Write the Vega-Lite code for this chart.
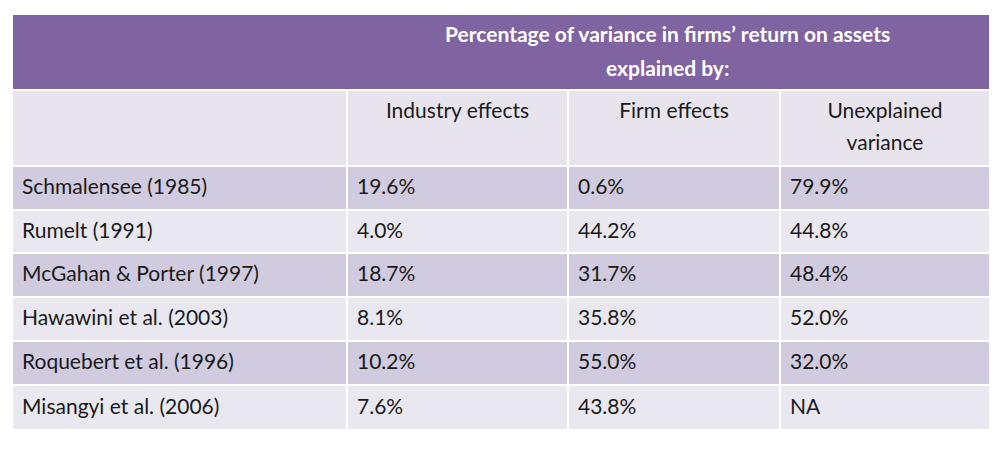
{
  "$schema": "https://vega.github.io/schema/vega-lite/v6.json",
  "width": 1002,
  "height": 454,
  "autosize": {"type": "fit", "contains": "padding"},
  "padding": 0,
  "background": "white",
  "config": {"view": {"stroke": null}, "text": {"lineBreak": "\n"}},
  "datasets": {
    "cells": [
      {"r0": 0, "r1": 1, "c0": 0, "c1": 4, "kind": "header"},
      {"r0": 1, "r1": 2, "c0": 0, "c1": 1, "kind": "sub"},
      {"r0": 1, "r1": 2, "c0": 1, "c1": 2, "kind": "sub"},
      {"r0": 1, "r1": 2, "c0": 2, "c1": 3, "kind": "sub"},
      {"r0": 1, "r1": 2, "c0": 3, "c1": 4, "kind": "sub"},
      {"r0": 2, "r1": 3, "c0": 0, "c1": 1, "kind": "dark"},
      {"r0": 2, "r1": 3, "c0": 1, "c1": 2, "kind": "dark"},
      {"r0": 2, "r1": 3, "c0": 2, "c1": 3, "kind": "dark"},
      {"r0": 2, "r1": 3, "c0": 3, "c1": 4, "kind": "dark"},
      {"r0": 3, "r1": 4, "c0": 0, "c1": 1, "kind": "light"},
      {"r0": 3, "r1": 4, "c0": 1, "c1": 2, "kind": "light"},
      {"r0": 3, "r1": 4, "c0": 2, "c1": 3, "kind": "light"},
      {"r0": 3, "r1": 4, "c0": 3, "c1": 4, "kind": "light"},
      {"r0": 4, "r1": 5, "c0": 0, "c1": 1, "kind": "dark"},
      {"r0": 4, "r1": 5, "c0": 1, "c1": 2, "kind": "dark"},
      {"r0": 4, "r1": 5, "c0": 2, "c1": 3, "kind": "dark"},
      {"r0": 4, "r1": 5, "c0": 3, "c1": 4, "kind": "dark"},
      {"r0": 5, "r1": 6, "c0": 0, "c1": 1, "kind": "light"},
      {"r0": 5, "r1": 6, "c0": 1, "c1": 2, "kind": "light"},
      {"r0": 5, "r1": 6, "c0": 2, "c1": 3, "kind": "light"},
      {"r0": 5, "r1": 6, "c0": 3, "c1": 4, "kind": "light"},
      {"r0": 6, "r1": 7, "c0": 0, "c1": 1, "kind": "dark"},
      {"r0": 6, "r1": 7, "c0": 1, "c1": 2, "kind": "dark"},
      {"r0": 6, "r1": 7, "c0": 2, "c1": 3, "kind": "dark"},
      {"r0": 6, "r1": 7, "c0": 3, "c1": 4, "kind": "dark"},
      {"r0": 7, "r1": 8, "c0": 0, "c1": 1, "kind": "light"},
      {"r0": 7, "r1": 8, "c0": 1, "c1": 2, "kind": "light"},
      {"r0": 7, "r1": 8, "c0": 2, "c1": 3, "kind": "light"},
      {"r0": 7, "r1": 8, "c0": 3, "c1": 4, "kind": "light"}
    ],
    "title": [
      {"x": 2.47, "y": 0.5, "t": "Percentage of variance in firms’ return on assets\nexplained by:"}
    ],
    "heads": [
      {"x": 1.5, "y": 1.5, "t": "Industry effects"},
      {"x": 2.5, "y": 1.5, "t": "Firm effects"},
      {"x": 3.5, "y": 1.5, "t": "Unexplained\nvariance"}
    ],
    "body": [
      {"c": 0, "r": 2.5, "t": "Schmalensee (1985)"}, {"c": 1, "r": 2.5, "t": "19.6%"}, {"c": 2, "r": 2.5, "t": "0.6%"}, {"c": 3, "r": 2.5, "t": "79.9%"},
      {"c": 0, "r": 3.5, "t": "Rumelt (1991)"}, {"c": 1, "r": 3.5, "t": "4.0%"}, {"c": 2, "r": 3.5, "t": "44.2%"}, {"c": 3, "r": 3.5, "t": "44.8%"},
      {"c": 0, "r": 4.5, "t": "McGahan & Porter (1997)"}, {"c": 1, "r": 4.5, "t": "18.7%"}, {"c": 2, "r": 4.5, "t": "31.7%"}, {"c": 3, "r": 4.5, "t": "48.4%"},
      {"c": 0, "r": 5.5, "t": "Hawawini et al. (2003)"}, {"c": 1, "r": 5.5, "t": "8.1%"}, {"c": 2, "r": 5.5, "t": "35.8%"}, {"c": 3, "r": 5.5, "t": "52.0%"},
      {"c": 0, "r": 6.5, "t": "Roquebert et al. (1996)"}, {"c": 1, "r": 6.5, "t": "10.2%"}, {"c": 2, "r": 6.5, "t": "55.0%"}, {"c": 3, "r": 6.5, "t": "32.0%"},
      {"c": 0, "r": 7.5, "t": "Misangyi et al. (2006)"}, {"c": 1, "r": 7.5, "t": "7.6%"}, {"c": 2, "r": 7.5, "t": "43.8%"}, {"c": 3, "r": 7.5, "t": "NA"}
    ]
  },
  "layer": [
    {
      "data": {"name": "cells"},
      "mark": {"type": "rect", "stroke": "white", "strokeWidth": 2},
      "encoding": {
        "x": {"field": "c0", "type": "quantitative", "axis": null, "scale": {"domain": [0, 1, 2, 3, 4], "range": [12, 347, 568, 780, 990]}},
        "x2": {"field": "c1"},
        "y": {"field": "r0", "type": "quantitative", "axis": null, "scale": {"domain": [0, 1, 2, 3, 4, 5, 6, 7, 8], "range": [14, 90, 166, 210, 253, 297, 341, 385, 430]}},
        "y2": {"field": "r1"},
        "color": {"field": "kind", "type": "nominal", "legend": null, "scale": {"domain": ["header", "sub", "dark", "light"], "range": ["#8064A2", "#E7E4EE", "#D0CBDF", "#E9E7F0"]}}
      }
    },
    {
      "data": {"name": "title"},
      "mark": {"type": "text", "font": "Lato", "fontSize": 21, "fontWeight": "bold", "lineHeight": 34, "align": "center", "baseline": "middle", "dy": -16, "color": "white"},
      "encoding": {
        "x": {"field": "x", "type": "quantitative"},
        "y": {"field": "y", "type": "quantitative"},
        "text": {"field": "t"}
      }
    },
    {
      "data": {"name": "heads"},
      "mark": {"type": "text", "font": "Lato", "fontSize": 21, "lineHeight": 32, "align": "center", "baseline": "middle", "dy": -16, "color": "#1a1a1a"},
      "encoding": {
        "x": {"field": "x", "type": "quantitative"},
        "y": {"field": "y", "type": "quantitative"},
        "text": {"field": "t"}
      }
    },
    {
      "data": {"name": "body"},
      "mark": {"type": "text", "font": "Lato", "fontSize": 21, "align": "left", "baseline": "middle", "dx": 10, "color": "#1a1a1a"},
      "encoding": {
        "x": {"field": "c", "type": "quantitative"},
        "y": {"field": "r", "type": "quantitative"},
        "text": {"field": "t"}
      }
    }
  ]
}
